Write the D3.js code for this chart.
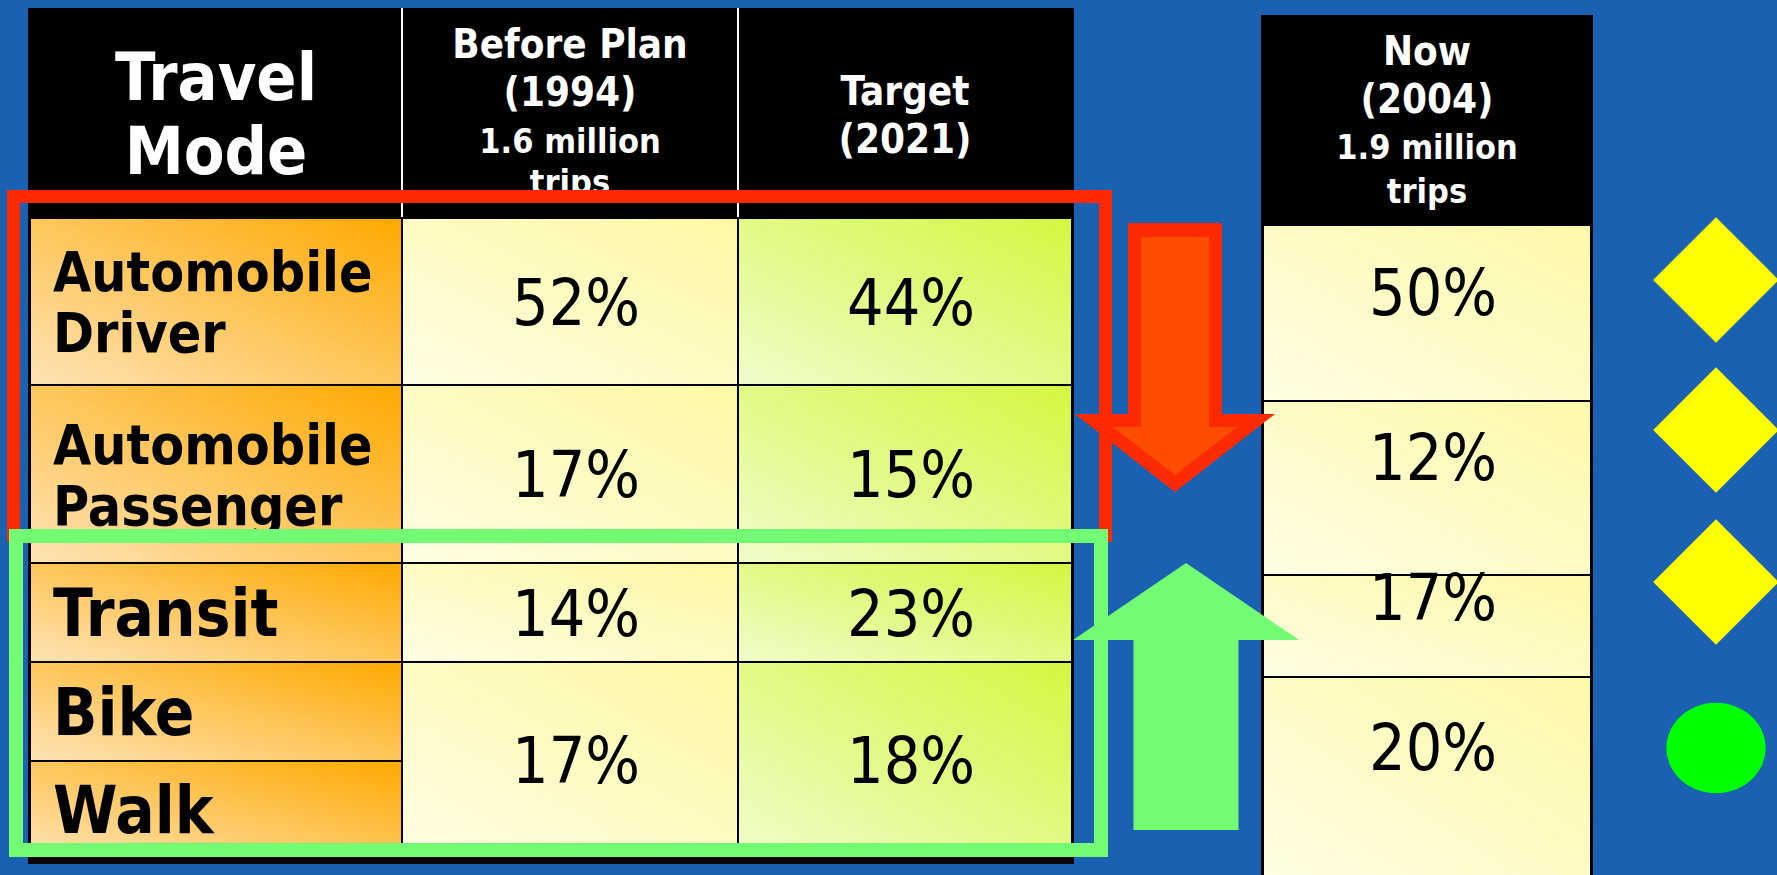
<!DOCTYPE html>
<html>
<head>
<meta charset="utf-8">
<script src="https://cdn.jsdelivr.net/npm/d3@7"></script>
<style>
    html, body { margin: 0; padding: 0; background: #1a61b1; overflow: hidden; }
    svg { display: block; }
    text { font-family: "DejaVu Sans Condensed", "DejaVu Sans", sans-serif; font-stretch: condensed; }
</style>
</head>
<body>
<svg id="chart"></svg>
<script>
// Table contents
var modeLabels = [["Automobile", "Driver"], ["Automobile", "Passenger"], ["Transit"], ["Bike"], ["Walk"]];
// rows each value cell covers (bike and walk share one cell)
var groupRows = [[0, 1], [1, 2], [2, 3], [3, 5]];
var beforePlan = [52, 17, 14, 17];
var target2021 = [44, 15, 23, 18];
var now2004 = [50, 12, 17, 20];

var headerMode = ["Travel", "Mode"];
var headerBefore = ["Before Plan", "(1994)", "1.6 million", "trips"];
var headerTarget = ["Target", "(2021)"];
var headerNow = ["Now", "(2004)", "1.9 million", "trips"];

// change markers beside the "Now" column
var nowMarkers = ["diamond", "diamond", "diamond", "circle"];


// Layout
const width = 1777, height = 875;

var colX = d3.scaleLinear().domain([0, 1, 2, 3]).range([30, 402, 738, 1072]);
var rowY = d3.scaleLinear().domain([0, 1, 2, 3, 4, 5]).range([218, 385, 563, 662, 761, 858]);
var nowX = [1263, 1591];
var nowRowY = d3.scaleLinear().domain([0, 1, 2, 3, 4]).range([225, 401, 575, 677, 885]);
var nowTextBase = [315, 480, 620, 770];
var markerY = [280, 430, 582, 748];
var markerX = 1716;

var svg = d3.select("#chart")
    .attr("width", width)
    .attr("height", height);

// Gradients for the cells
var defs = svg.append("defs");
var gradients = {
    mode: ["#fee3b6", "#ffa900"],
    before: ["#fffde4", "#fdf8a2"],
    target: ["#f1fccb", "#d3f73f"],
    now: ["#fffde4", "#fdf9a8"]
};
Object.entries(gradients).forEach(function([key, c]) {
    var g = defs.append("linearGradient")
        .attr("id", "grad-" + key)
        .attr("x1", 0).attr("y1", 1)
        .attr("x2", 1).attr("y2", 0);
    g.append("stop").attr("offset", "0%").attr("stop-color", c[0]);
    g.append("stop").attr("offset", "100%").attr("stop-color", c[1]);
});

svg.append("rect")
    .attr("width", width).attr("height", height)
    .attr("fill", "#1a61b1");

// ---- Main table ----
var table = svg.append("g");

table.append("rect")
    .attr("x", colX(0) - 2).attr("y", 8)
    .attr("width", colX(3) - colX(0) + 4)
    .attr("height", rowY(5) - 8 + 6)
    .attr("fill", "black");

// white dividers in the header
table.selectAll(".hdiv")
    .data([1, 2])
    .join("line")
    .attr("x1", d => colX(d)).attr("x2", d => colX(d))
    .attr("y1", 8).attr("y2", rowY(0))
    .attr("stroke", "white")
    .attr("stroke-width", 2);

// header text
var headerCols = [
    {lines: headerMode, col: 0, base: [100, 174], size: [66, 66]},
    {lines: headerBefore, col: 1, base: [58, 106, 153, 194], size: [40, 40, 34, 34]},
    {lines: headerTarget, col: 2, base: [105, 153], size: [40, 40]}
];
headerCols.forEach(function(h) {
    table.selectAll(null)
        .data(h.lines)
        .join("text")
        .attr("x", (colX(h.col) + colX(h.col + 1)) / 2)
        .attr("y", (d, i) => h.base[i])
        .attr("text-anchor", "middle")
        .attr("fill", "white")
        .attr("font-weight", "bold")
        .attr("font-size", (d, i) => h.size[i])
        .text(d => d);
});

// travel mode cells
table.selectAll(".mode-cell")
    .data(modeLabels)
    .join("rect")
    .attr("class", "mode-cell")
    .attr("x", colX(0)).attr("y", (d, i) => rowY(i))
    .attr("width", colX(1) - colX(0))
    .attr("height", (d, i) => rowY(i + 1) - rowY(i))
    .attr("fill", "url(#grad-mode)")
    .attr("stroke", "black")
    .attr("stroke-width", 2);

modeLabels.forEach(function(lines, i) {
    var size = lines.length > 1 ? 55 : 65;
    var lineH = 61;
    var mid = (rowY(i) + rowY(i + 1)) / 2;
    var cap = size * 0.73;
    var firstBase = mid - (lines.length - 1) * lineH / 2 + cap / 2;
    table.selectAll(null)
        .data(lines)
        .join("text")
        .attr("x", colX(0) + 23)
        .attr("y", (d, j) => firstBase + j * lineH)
        .attr("font-weight", "bold")
        .attr("font-size", size)
        .attr("fill", "black")
        .text(d => d);
});

// value columns
var valueCols = [
    {values: beforePlan, col: 1, grad: "before"},
    {values: target2021, col: 2, grad: "target"}
];
valueCols.forEach(function(c) {
    table.selectAll(null)
        .data(c.values)
        .join("rect")
        .attr("x", colX(c.col))
        .attr("y", (d, i) => rowY(groupRows[i][0]))
        .attr("width", colX(c.col + 1) - colX(c.col))
        .attr("height", (d, i) => rowY(groupRows[i][1]) - rowY(groupRows[i][0]))
        .attr("fill", "url(#grad-" + c.grad + ")")
        .attr("stroke", "black")
        .attr("stroke-width", 2);

    table.selectAll(null)
        .data(c.values)
        .join("text")
        .attr("x", (colX(c.col) + colX(c.col + 1)) / 2 + 6)
        .attr("y", (d, i) => (rowY(groupRows[i][0]) + rowY(groupRows[i][1])) / 2 + 64 * 0.73 / 2)
        .attr("text-anchor", "middle")
        .attr("font-size", 64)
        .attr("fill", "black")
        .text(d => d + "%");
});

// ---- "Now" column ----
var now = svg.append("g");

now.append("rect")
    .attr("x", nowX[0] - 2).attr("y", 15)
    .attr("width", nowX[1] - nowX[0] + 4)
    .attr("height", height)
    .attr("fill", "black");

now.selectAll(null)
    .data(headerNow)
    .join("text")
    .attr("x", (nowX[0] + nowX[1]) / 2)
    .attr("y", (d, i) => [65, 113, 159, 203][i])
    .attr("text-anchor", "middle")
    .attr("fill", "white")
    .attr("font-weight", "bold")
    .attr("font-size", (d, i) => i < 2 ? 40 : 34)
    .text(d => d);

now.selectAll(".now-cell")
    .data(now2004)
    .join("rect")
    .attr("class", "now-cell")
    .attr("x", nowX[0])
    .attr("y", (d, i) => nowRowY(i))
    .attr("width", nowX[1] - nowX[0])
    .attr("height", (d, i) => nowRowY(i + 1) - nowRowY(i))
    .attr("fill", "url(#grad-now)")
    .attr("stroke", "black")
    .attr("stroke-width", 2);

now.selectAll(".now-val")
    .data(now2004)
    .join("text")
    .attr("class", "now-val")
    .attr("x", (nowX[0] + nowX[1]) / 2 + 6)
    .attr("y", (d, i) => nowTextBase[i])
    .attr("text-anchor", "middle")
    .attr("font-size", 64)
    .attr("fill", "black")
    .text(d => d + "%");

// ---- Highlight boxes and arrows ----
svg.append("rect")
    .attr("x", 13.5).attr("y", 196.5)
    .attr("width", 1092).attr("height", 339)
    .attr("fill", "none")
    .attr("stroke", "#ff2a00")
    .attr("stroke-width", 13);

svg.append("rect")
    .attr("x", 16).attr("y", 536)
    .attr("width", 1085).attr("height", 314)
    .attr("fill", "none")
    .attr("stroke", "#73fb73")
    .attr("stroke-width", 14);

// block arrow outline: start of shaft, head base, tip
var arrow = function(cx, tail, base, tip, shaft, head) {
    return d3.line()([
        [cx - shaft, tail], [cx + shaft, tail], [cx + shaft, base],
        [cx + head, base], [cx, tip], [cx - head, base], [cx - shaft, base]
    ]) + "Z";
};

svg.append("path")
    .attr("d", arrow(1175, 223, 414, 492, 47, 100))
    .attr("fill", "#ff2a00");
svg.append("path")
    .attr("d", arrow(1175, 237, 427, 475, 34, 62))
    .attr("fill", "#ff4d00");

svg.append("path")
    .attr("d", arrow(1186, 830, 640, 563, 52.5, 113))
    .attr("fill", "#73fb73");

// markers
svg.selectAll(".marker")
    .data(nowMarkers)
    .join("path")
    .attr("class", "marker")
    .attr("transform", (d, i) => `translate(${markerX}, ${markerY[i]})` + (d === "diamond" ? " rotate(45)" : " scale(1.1, 1)"))
    .attr("d", d => d === "diamond"
        ? d3.symbol(d3.symbolSquare, 7900)()
        : d3.symbol(d3.symbolCircle, 6400)())
    .attr("fill", d => d === "diamond" ? "#ffff00" : "#00ff00");
</script>
</body>
</html>
